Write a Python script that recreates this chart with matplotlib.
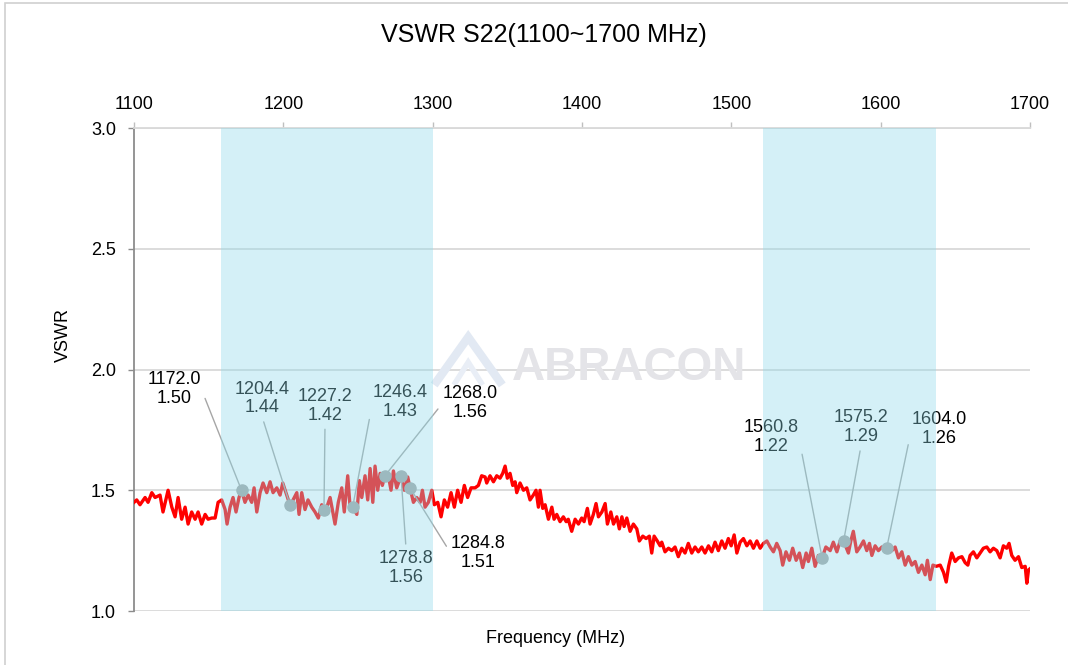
import matplotlib
matplotlib.use("Agg")
import matplotlib.pyplot as plt
from matplotlib.patches import Rectangle, Polygon

plt.rcParams['font.family'] = ['Liberation Sans', 'DejaVu Sans']

# ---- data ----
freq = [
    1100.0, 1101.8, 1104.0, 1107.4, 1109.4, 1111.9, 1114.1, 1117.4, 1119.4, 1122.8,
    1125.3, 1127.5, 1129.5, 1131.9, 1134.2, 1136.2, 1138.6, 1140.9, 1142.9, 1145.3,
    1147.6, 1149.6, 1152.0, 1154.3, 1156.3, 1158.7, 1161.0, 1162.3, 1164.3, 1166.3,
    1168.3, 1170.3, 1172.0, 1174.3, 1176.4, 1178.8, 1180.4, 1182.2, 1184.4, 1186.4,
    1188.9, 1191.1, 1193.1, 1195.6, 1197.8, 1199.6, 1204.4, 1206.5, 1209.0, 1210.5,
    1212.3, 1214.5, 1216.5, 1219.0, 1221.2, 1223.4, 1225.7, 1227.2, 1229.1, 1231.3,
    1234.6, 1236.8, 1239.1, 1240.8, 1243.1, 1244.7, 1246.4, 1249.2, 1250.9, 1252.5,
    1254.7, 1256.5, 1258.1, 1259.9, 1261.4, 1263.2, 1264.8, 1266.3, 1268.0, 1270.3,
    1272.1, 1273.7, 1275.9, 1278.8, 1281.0, 1283.3, 1284.8, 1287.1, 1289.3, 1291.6,
    1293.1, 1294.9, 1297.1, 1299.4, 1301.1, 1303.4, 1305.6, 1307.8, 1310.0, 1312.3,
    1314.5, 1316.7, 1319.0, 1321.2, 1323.4, 1325.7, 1328.4, 1330.6, 1332.8, 1335.1,
    1336.2, 1338.4, 1340.7, 1342.9, 1345.1, 1346.9, 1348.5, 1350.0, 1351.8, 1353.6,
    1355.2, 1356.3, 1358.5, 1360.8, 1363.0, 1365.2, 1367.4, 1369.2, 1370.8, 1371.9,
    1373.7, 1375.3, 1377.5, 1379.8, 1381.3, 1383.1, 1385.3, 1387.5, 1389.4, 1390.8,
    1393.1, 1395.4, 1397.6, 1399.8, 1401.4, 1403.6, 1405.4, 1407.6, 1409.4, 1411.0,
    1413.3, 1415.5, 1417.0, 1419.3, 1421.1, 1423.3, 1425.0, 1426.7, 1428.2, 1430.0,
    1432.2, 1434.4, 1436.7, 1438.4, 1440.7, 1442.9, 1445.1, 1446.7, 1448.3, 1450.4,
    1452.3, 1453.4, 1455.6, 1457.9, 1460.1, 1462.3, 1464.5, 1466.8, 1469.0, 1471.2,
    1473.5, 1475.7, 1477.9, 1480.2, 1482.4, 1484.7, 1486.9, 1489.1, 1491.3, 1493.6,
    1495.8, 1498.0, 1499.9, 1501.9, 1503.7, 1505.9, 1508.1, 1510.4, 1512.6, 1514.8,
    1517.1, 1519.3, 1521.5, 1523.8, 1526.0, 1528.2, 1530.4, 1532.7, 1534.4, 1536.6,
    1538.9, 1541.1, 1543.4, 1545.6, 1547.8, 1550.1, 1551.6, 1553.9, 1556.1, 1558.3,
    1560.8, 1563.3, 1566.2, 1568.3, 1570.7, 1572.9, 1575.2, 1578.4, 1580.0, 1581.7,
    1584.0, 1586.2, 1588.5, 1590.7, 1592.5, 1594.1, 1596.3, 1598.5, 1600.8, 1604.0,
    1607.5, 1609.7, 1611.9, 1614.2, 1616.4, 1618.6, 1620.9, 1623.1, 1625.3, 1627.6,
    1629.8, 1631.3, 1633.2, 1635.0, 1637.2, 1639.9, 1642.1, 1643.9, 1645.5, 1647.6,
    1649.9, 1652.1, 1654.4, 1656.6, 1658.4, 1659.9, 1662.1, 1664.4, 1666.6, 1668.8,
    1671.1, 1673.3, 1675.5, 1677.8, 1680.0, 1682.2, 1684.4, 1686.0, 1687.8, 1690.0,
    1692.3, 1694.5, 1696.8, 1697.9, 1699.0, 1700.0,
]
vswr = [
    1.45, 1.46, 1.44, 1.47, 1.45, 1.49, 1.47, 1.48, 1.41, 1.50,
    1.43, 1.39, 1.47, 1.38, 1.43, 1.36, 1.41, 1.38, 1.41, 1.36,
    1.40, 1.38, 1.385, 1.385, 1.45, 1.46, 1.42, 1.36, 1.43, 1.47,
    1.41, 1.47, 1.50, 1.45, 1.48, 1.45, 1.51, 1.41, 1.49, 1.53,
    1.49, 1.535, 1.49, 1.51, 1.48, 1.53, 1.44, 1.46, 1.49, 1.40,
    1.49, 1.42, 1.46, 1.43, 1.41, 1.385, 1.44, 1.42, 1.43, 1.47,
    1.36, 1.45, 1.51, 1.41, 1.56, 1.43, 1.43, 1.40, 1.54, 1.47,
    1.56, 1.46, 1.59, 1.45, 1.60, 1.50, 1.57, 1.52, 1.56, 1.56,
    1.50, 1.58, 1.51, 1.56, 1.50, 1.555, 1.51, 1.45, 1.47, 1.45,
    1.50, 1.43, 1.45, 1.50, 1.44, 1.45, 1.39, 1.46, 1.43, 1.49,
    1.43, 1.50, 1.45, 1.52, 1.47, 1.51, 1.51, 1.52, 1.56, 1.555,
    1.53, 1.56, 1.535, 1.56, 1.55, 1.57, 1.60, 1.55, 1.57, 1.52,
    1.535, 1.49, 1.53, 1.50, 1.51, 1.46, 1.48, 1.50, 1.43, 1.50,
    1.425, 1.44, 1.38, 1.43, 1.38, 1.40, 1.37, 1.39, 1.37, 1.38,
    1.33, 1.38, 1.36, 1.385, 1.37, 1.425, 1.36, 1.40, 1.445, 1.39,
    1.41, 1.445, 1.36, 1.41, 1.36, 1.39, 1.34, 1.39, 1.35, 1.385,
    1.33, 1.36, 1.34, 1.29, 1.31, 1.30, 1.31, 1.24, 1.31, 1.29,
    1.27, 1.285, 1.245, 1.26, 1.25, 1.265, 1.225, 1.26, 1.24, 1.28,
    1.24, 1.265, 1.245, 1.265, 1.24, 1.27, 1.245, 1.285, 1.25, 1.29,
    1.26, 1.30, 1.27, 1.315, 1.24, 1.285, 1.30, 1.27, 1.29, 1.26,
    1.29, 1.26, 1.28, 1.29, 1.265, 1.245, 1.28, 1.25, 1.19, 1.245,
    1.21, 1.26, 1.21, 1.24, 1.18, 1.24, 1.205, 1.26, 1.185, 1.23,
    1.22, 1.265, 1.25, 1.285, 1.245, 1.29, 1.29, 1.24, 1.29, 1.33,
    1.245, 1.265, 1.29, 1.25, 1.28, 1.23, 1.27, 1.25, 1.265, 1.26,
    1.25, 1.265, 1.22, 1.245, 1.19, 1.225, 1.19, 1.205, 1.16, 1.19,
    1.15, 1.21, 1.13, 1.19, 1.185, 1.19, 1.16, 1.12, 1.185, 1.24,
    1.205, 1.22, 1.225, 1.20, 1.19, 1.23, 1.245, 1.22, 1.24, 1.26,
    1.265, 1.245, 1.26, 1.25, 1.22, 1.27, 1.26, 1.28, 1.23, 1.21,
    1.225, 1.18, 1.185, 1.115, 1.17, 1.175,
]

# marked points and where their callouts sit
mark_freq = [1172.0, 1204.4, 1227.2, 1246.4, 1268.0, 1278.8, 1284.8, 1560.8, 1575.2, 1604.0]
mark_vswr = [1.50, 1.44, 1.42, 1.43, 1.56, 1.56, 1.51, 1.22, 1.29, 1.26]
label_x = [1127.1, 1185.7, 1227.9, 1278.2, 1325.0, 1282.2, 1330.4, 1526.7, 1586.9, 1639.2]
label_y = [1.92, 1.88, 1.85, 1.865, 1.86, 1.18, 1.24, 1.72, 1.76, 1.755]
leader_from = [(1, 0.5), (0.5, 0), (0.5, 0), (0, 0.5), (0, 0.5),
               (0.5, 1), (0, 0.5), (1, 0.5), (0.5, 0), (0, 0.5)]

bands = [(1158, 1300.5), (1521, 1637)]
x_ticks = [1100, 1200, 1300, 1400, 1500, 1600, 1700]
y_ticks = [1.0, 1.5, 2.0, 2.5, 3.0]

fig = plt.figure(figsize=(10.68, 6.65), dpi=100)
ax = fig.add_axes([0.1255, 0.0812, 0.8389, 0.7263])

ax.plot(freq, vswr, color='#ff0000', lw=2.4, zorder=3)
ax.plot(mark_freq, mark_vswr, 'o', color='#a5a5a5', ms=8, zorder=4)

for mx, my, lx, ly, rp in zip(mark_freq, mark_vswr, label_x, label_y, leader_from):
    ax.annotate(f'{mx:.1f}\n{my:.2f}', xy=(mx, my), xytext=(lx, ly),
                ha='center', va='center', fontsize=13, linespacing=1.15,
                color='black', zorder=4,
                arrowprops=dict(arrowstyle='-', color='#a6a6a6', lw=1,
                                relpos=rp, shrinkA=2, shrinkB=4))

# shaded bands lie on top of the trace, as in the reference
for lo, hi in bands:
    ax.axvspan(lo, hi, color='#8edaea', alpha=0.38, lw=0, zorder=6)

# watermark
ax.text(0.552, 0.503, 'ABRACON', transform=ax.transAxes, fontsize=33,
        fontweight='bold', color='#e4e4e8', ha='center', va='center', zorder=1)
logo_outer = Polygon([(0.335, 0.468), (0.373, 0.567), (0.411, 0.468)], closed=False,
                     fill=False, ec='#e2e9f3', lw=6, transform=ax.transAxes, zorder=1)
logo_inner = Polygon([(0.357, 0.468), (0.373, 0.515), (0.389, 0.468)], closed=False,
                     fill=False, ec='#e9eef6', lw=4, transform=ax.transAxes, zorder=1)
ax.add_patch(logo_outer)
ax.add_patch(logo_inner)

ax.set_xlim(1100, 1700)
ax.set_ylim(1.0, 3.0)
ax.set_xticks(x_ticks)
ax.set_yticks(y_ticks)
ax.set_yticklabels([f'{t:.1f}' for t in y_ticks])
ax.xaxis.tick_top()
ax.tick_params(axis='x', length=4, width=1, color='#bfbfbf', pad=7, labelsize=13)
ax.tick_params(axis='y', length=4, width=1, color='#8c8c8c', pad=9, labelsize=13)
ax.grid(axis='y', color='#d9d9d9', lw=1.3, zorder=0)
ax.set_axisbelow(True)
for side in ['right', 'bottom']:
    ax.spines[side].set_visible(False)
ax.spines['top'].set_color('#d9d9d9')
ax.spines['top'].set_linewidth(1.3)
ax.spines['left'].set_color('#8c8c8c')
ax.spines['left'].set_linewidth(1.3)

fig.text(0.509, 0.948, 'VSWR S22(1100~1700 MHz)', ha='center', va='center', fontsize=18)
fig.text(0.5206, 0.0406, 'Frequency (MHz)', ha='center', va='center', fontsize=13)
fig.text(0.059, 0.496, 'VSWR', ha='center', va='center', fontsize=13, rotation=90)

fig.patches.append(Rectangle((0.0045, -0.02), 1.05, 1.0155, transform=fig.transFigure,
                             fill=False, ec='#d0d0d0', lw=1.2))

fig.savefig('out.png', dpi=100)
